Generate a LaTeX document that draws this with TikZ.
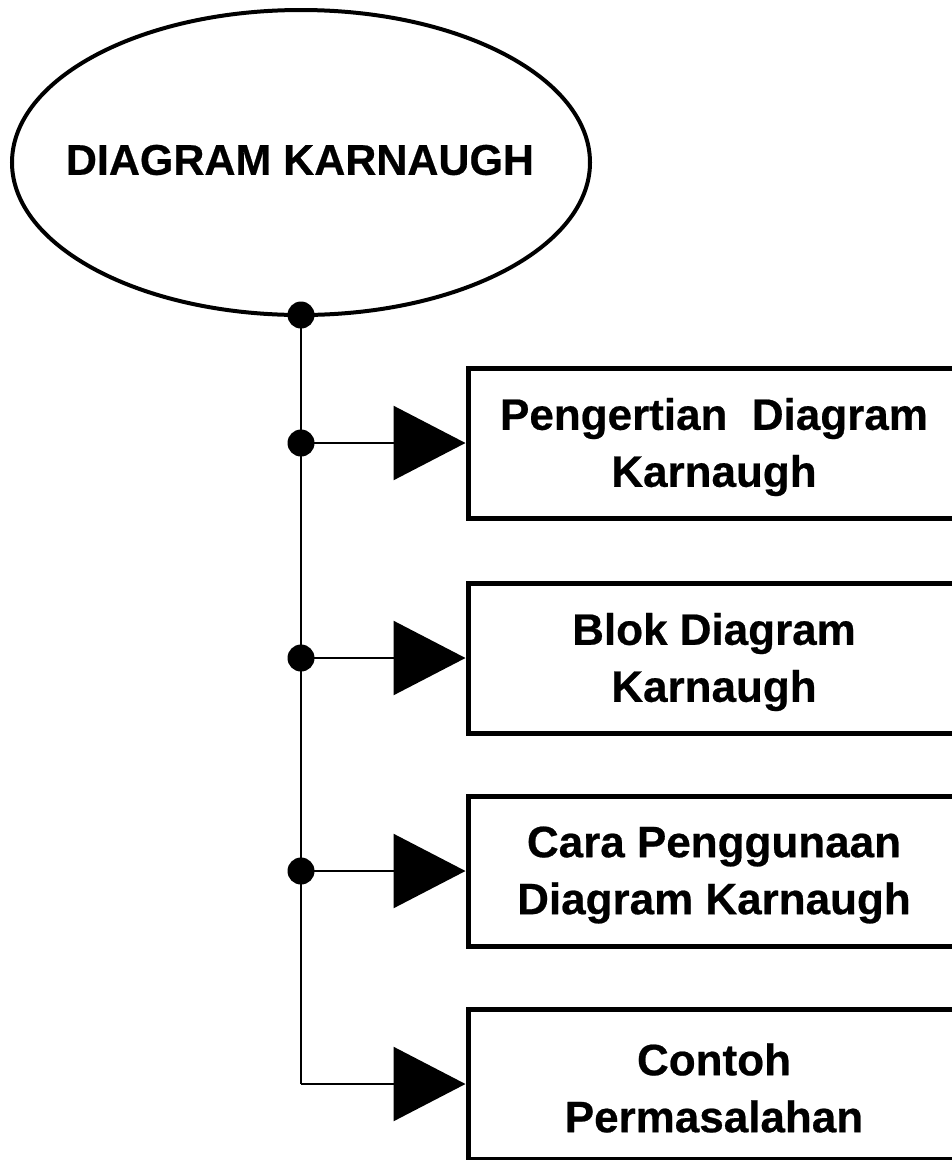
\documentclass[tikz,border=0pt]{standalone}
\usepackage{fontspec}
\setmainfont{Liberation Sans}[BoldFeatures={FakeBold=0.5}]
\usetikzlibrary{arrows.meta,shapes.geometric}

\tikzset{
  topic/.style={draw, ellipse, line width=4pt, minimum width=578pt, minimum height=305pt, inner sep=0pt},
  title/.style={font=\fontsize{43pt}{57pt}\selectfont\bfseries, inner sep=0pt},
  itembox/.style={draw, rectangle, line width=5pt, minimum width=492pt, minimum height=150pt, inner sep=0pt},
  itemtext/.style={inner sep=0pt, align=center, font=\fontsize{44pt}{57pt}\selectfont\bfseries},
  joint/.style={circle, fill, inner sep=0pt, minimum size=27pt},
  trunk/.style={line width=2.5pt},
  branch/.style={line width=2.5pt, -{Triangle[length=72pt, width=74pt]}},
}

\begin{document}
\begin{tikzpicture}[x=1pt, y=-1pt]
  \useasboundingbox (0,0) rectangle (952,1160);
  \clip (0,0) rectangle (952,1160);

  % main topic
  \node[topic] (top) at (301,162.5) {};
  \node[title] (toptext) at (300,160) {DIAGRAM KARNAUGH};

  % sub-topic boxes (right side runs past the page edge)
  \node[itembox] (b1) at (714,443) {};
  \node[itembox] (b2) at (714,658) {};
  \node[itembox] (b3) at (714,871) {};
  \node[itembox] (b4) at (714,1084) {};

  \node[itemtext] (t1) at (714,447) {Pengertian\ \ Diagram\\Karnaugh};
  \node[itemtext] (t2) at (714,662) {Blok Diagram\\Karnaugh};
  \node[itemtext] (t3) at (714,875) {Cara Penggunaan\\Diagram Karnaugh};
  \node[itemtext] (t4) at (714,1088) {Contoh\\Permasalahan};

  % joints on the trunk
  \node[joint] (j0) at (301,315) {};
  \node[joint] (j1) at (301,443) {};
  \node[joint] (j2) at (301,658) {};
  \node[joint] (j3) at (301,871) {};
  \coordinate (j4) at (301,1084);

  % trunk and branches
  \draw[trunk] (j0.center) -- (j4);
  \draw[branch] (j1.center) -- (b1.west);
  \draw[branch] (j2.center) -- (b2.west);
  \draw[branch] (j3.center) -- (b3.west);
  \draw[branch] (j4) -- (b4.west);
\end{tikzpicture}
\end{document}
